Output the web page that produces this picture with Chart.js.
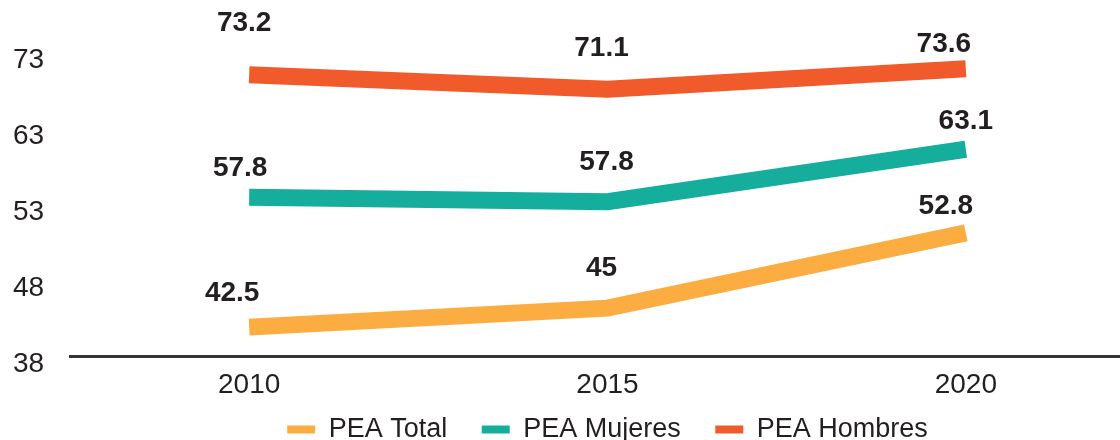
<!DOCTYPE html>
<html>
<head>
<meta charset="utf-8">
<script src="https://cdn.jsdelivr.net/npm/chart.js@4/dist/chart.umd.min.js"></script>
<style>
html, body { margin: 0; padding: 0; overflow: hidden; background: #fff; }
#wrap { position: absolute; left: 0; top: 0; width: 1145px; height: 440px; }
</style>
</head>
<body>
<div id="wrap"><canvas id="chart"></canvas></div>
<script>
const years = ['2010', '2015', '2020'];
const yTickLabels = [38, 48, 53, 63, 73];

// where each line sits, read against the (unevenly labelled) y axis
const peaTotal = [41.8, 44.3, 51.1];
const peaMujeres = [53.9, 53.3, 60.2];
const peaHombres = [70.0, 68.1, 70.8];

// numbers printed above the lines
const peaTotalText = ['42.5', '45', '52.8'];
const peaMujeresText = ['57.8', '57.8', '63.1'];
const peaHombresText = ['73.2', '71.1', '73.6'];

const textColor = '#231f20';
const fontFamily = '"Liberation Sans", Arial, sans-serif';

// the axis labels are evenly spaced, so map a value onto its tick index
function toAxis(v) {
    for (let i = 0; i < yTickLabels.length - 1; i++) {
        const a = yTickLabels[i], b = yTickLabels[i + 1];
        if (v <= b || i === yTickLabels.length - 2) {
            return i + (v - a) / (b - a);
        }
    }
}

const pointText = {
    id: 'pointText',
    afterDatasetsDraw(chart) {
        const ctx = chart.ctx;
        ctx.save();
        ctx.font = 'bold 28px ' + fontFamily;
        ctx.fillStyle = textColor;
        ctx.textAlign = 'center';
        ctx.textBaseline = 'middle';
        chart.data.datasets.forEach((ds, i) => {
            chart.getDatasetMeta(i).data.forEach((pt, j) => {
                const shift = ds.textShift[j];
                ctx.fillText(ds.pointText[j], pt.x + shift[0], pt.y + shift[1]);
            });
        });
        ctx.restore();
    }
};

function makeLine(label, values, text, color, shift) {
    return {
        label: label,
        data: values.map(toAxis),
        pointText: text,
        textShift: shift,
        borderColor: color,
        backgroundColor: color,
        borderWidth: 17,
        borderCapStyle: 'butt',
        borderJoinStyle: 'miter',
        pointRadius: 0,
        pointHoverRadius: 0,
        tension: 0,
        fill: false
    };
}

new Chart(document.getElementById('chart'), {
    type: 'line',
    data: {
        labels: years,
        datasets: [
            makeLine('PEA Total   ', peaTotal, peaTotalText, '#fbad42', [[-17, -34], [-6, -40], [-20, -27]]),
            makeLine('PEA Mujeres   ', peaMujeres, peaMujeresText, '#15ae9c', [[-9, -29], [-1, -39], [0, -28]]),
            makeLine('PEA Hombres', peaHombres, peaHombresText, '#f15a2b', [[-5, -52], [-6, -41], [-22, -24]])
        ]
    },
    options: {
        responsive: true,
        maintainAspectRatio: false,
        animation: false,
        layout: {
            padding: { left: 13, top: 52, right: 0, bottom: 0 }
        },
        plugins: {
            legend: {
                position: 'bottom',
                fullSize: false,
                maxHeight: 36,
                labels: {
                    boxWidth: 28,
                    boxHeight: 8,
                    padding: 12,
                    color: textColor,
                    font: { size: 27, family: fontFamily },
                    generateLabels: function(chart) {
                        const items = Chart.defaults.plugins.legend.labels.generateLabels(chart);
                        items.forEach(item => { item.lineWidth = 0; });
                        return items;
                    }
                }
            },
            tooltip: { enabled: false }
        },
        scales: {
            x: {
                offset: true,
                grid: { display: false, drawTicks: false },
                border: { display: true, color: '#333333', width: 3 },
                afterFit: function(scale) { scale.height = 48; },
                ticks: {
                    padding: 12,
                    color: textColor,
                    font: { size: 28, family: fontFamily }
                }
            },
            y: {
                min: 0,
                max: yTickLabels.length - 1,
                grid: { display: false, drawTicks: false },
                border: { display: false },
                afterFit: function(scale) { scale.width = 57; },
                afterBuildTicks: function(scale) {
                    scale.ticks = yTickLabels.map((_, i) => ({ value: i }));
                },
                ticks: {
                    crossAlign: 'far',
                    labelOffset: 8,
                    padding: 0,
                    color: textColor,
                    font: { size: 28, family: fontFamily },
                    callback: function(value) { return yTickLabels[value]; }
                }
            }
        }
    },
    plugins: [pointText]
});
</script>
</body>
</html>
